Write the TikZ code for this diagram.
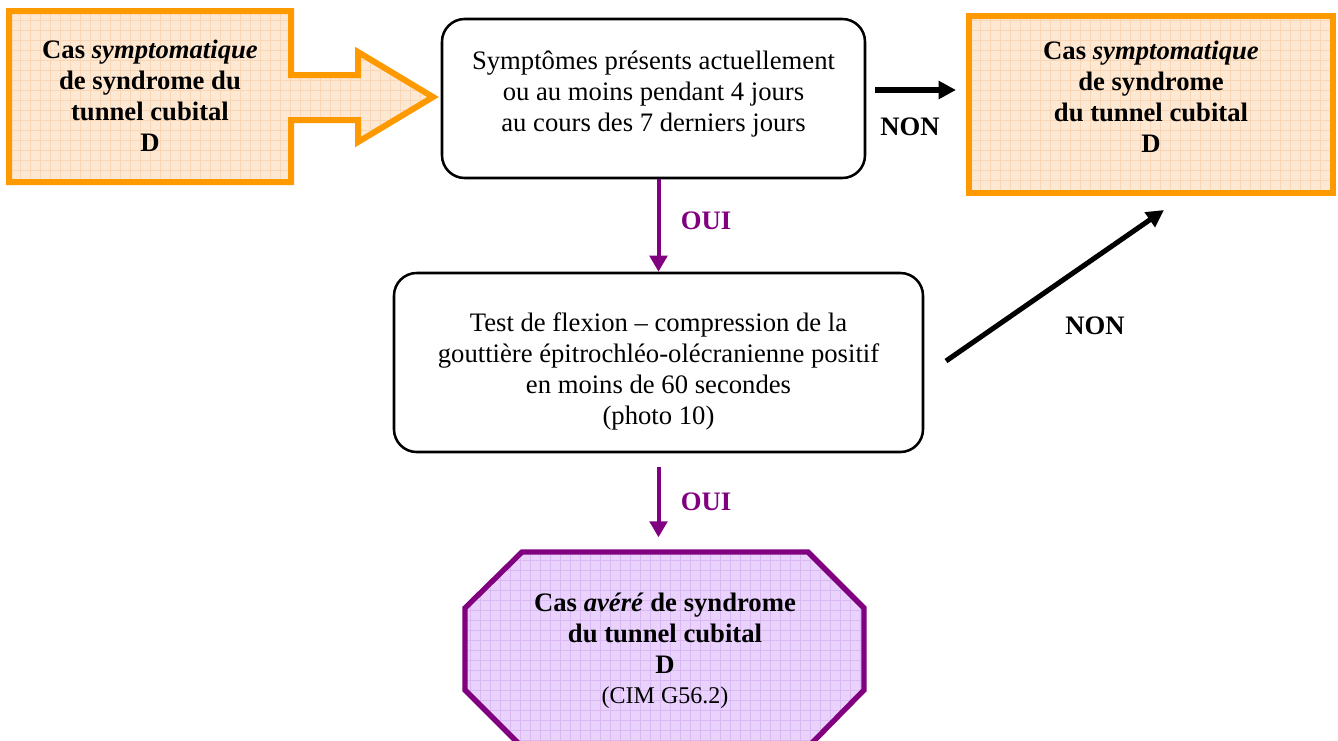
\documentclass[tikz,border=0pt]{standalone}
\usepackage{fontspec}
\setmainfont{Liberation Serif}
\usetikzlibrary{arrows.meta}

\definecolor{orangeline}{HTML}{FF9900}
\definecolor{peach}{HTML}{FDE8D4}
\definecolor{peachgrid}{HTML}{FAD6B4}
\definecolor{lilac}{HTML}{E9D2FB}
\definecolor{lilacgrid}{HTML}{D9B8F4}
\definecolor{plum}{HTML}{800080}

\tikzset{
  gridfill/.style={path picture={
      \draw[#1, line width=0.4pt, step=7.5pt]
        (path picture bounding box.south west) grid (path picture bounding box.north east);}},
  question/.style={draw=black, line width=1.9pt, rounded corners=17pt, fill=white, inner sep=0pt},
  plaintext/.style={align=center, inner sep=0pt, font=\fontsize{20}{23.25}\selectfont},
  casetext/.style={align=center, inner sep=0pt, font=\fontsize{20}{23.25}\selectfont\bfseries},
  orangecase/.style={draw=orangeline, line width=4.5pt, fill=peach, gridfill=peachgrid, line join=miter},
  provencase/.style={draw=plum, line width=4pt, fill=lilac, gridfill=lilacgrid, line join=miter},
  yesarrow/.style={draw=plum, line width=3pt, -{Triangle[length=12pt,width=13pt]}},
  noarrow/.style={draw=black, line width=3.8pt, -{Triangle[length=13pt,width=13pt]}},
  yeslabel/.style={font=\fontsize{20}{23.25}\selectfont\bfseries, text=plum, inner sep=0pt},
  nolabel/.style={font=\fontsize{20}{23.25}\selectfont\bfseries, text=black, inner sep=0pt},
}

\begin{document}
\begin{tikzpicture}[x=0.75pt,y=-0.75pt]
  \useasboundingbox (0,0) rectangle (1338,740);
  \clip (0,0) rectangle (1338,740);

  % symptomatic case pointing to the first question
  \draw[orangecase] (9,11) -- (291,11) -- (291,75) -- (358,75) -- (358,52)
        -- (433,97) -- (358,142) -- (358,120) -- (291,120) -- (291,182) -- (9,182) -- cycle;
  \node[casetext] (symleft) at (150,96)
        {Cas \textit{symptomatique}\\de syndrome du\\tunnel cubital\\D};

  % first question
  \node[question, minimum width=317.25pt, minimum height=119.25pt] (symptoms) at (653.5,98.5) {};
  \node[plaintext] (symptomstext) at (653.5,94)
        {Symptômes présents actuellement\\ou au moins pendant 4 jours\\au cours des 7 derniers jours};

  % symptomatic case on the right
  \draw[orangecase] (969,16) rectangle (1333,193);
  \node[casetext] (symright) at (1151,96.5)
        {Cas \textit{symptomatique}\\de syndrome\\du tunnel cubital\\D};

  % second question
  \node[question, minimum width=396.75pt, minimum height=134.25pt] (flexion) at (658.5,362.5) {};
  \node[plaintext] (flexiontext) at (658.5,371.5)
        {Test de flexion – compression de la\\gouttière épitrochléo-olécranienne positif\\en moins de 60 secondes\\(photo 10)};

  % proven case
  \draw[provencase] (522,552) -- (808,552) -- (864,608) -- (864,690) -- (808,747)
        -- (522,747) -- (465,690) -- (465,608) -- cycle;
  \node[casetext] (proven) at (665,651)
        {Cas \textit{avéré} de syndrome\\du tunnel cubital\\D\\[-1pt]{\fontsize{18}{21}\selectfont\mdseries (CIM G56.2)}};
  \coordinate (proventop) at (665,552);

  % connectors
  \draw[yesarrow] (flexion.north |- symptoms.south) -- (flexion.north);
  \node[yeslabel] (oui1) at (706,221) {OUI};

  \draw[yesarrow, shorten <=10.5pt, shorten >=11pt] (flexion.south) -- (flexion.south |- proventop);
  \node[yeslabel] (oui2) at (706,502) {OUI};

  \coordinate (non1start) at (875,90);
  \coordinate (non1end) at (956,90);
  \draw[noarrow] (non1start) -- (non1end);
  \node[nolabel] (non1) at (910,127) {NON};

  \coordinate (non2start) at (946,361);
  \coordinate (non2end) at (1164,210);
  \draw[noarrow] (non2start) -- (non2end);
  \node[nolabel] (non2) at (1095,326) {NON};
\end{tikzpicture}
\end{document}
